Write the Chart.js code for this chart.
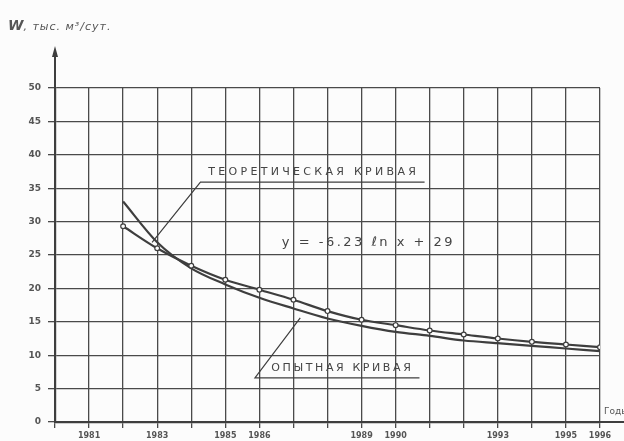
<!DOCTYPE html>
<html>
<head>
<meta charset="utf-8">
<script src="https://cdn.jsdelivr.net/npm/chart.js@4/dist/chart.umd.min.js"></script>
<style>
  html, body { margin: 0; padding: 0; background: #fcfcfc; }
  #wrap { width: 624px; height: 441px; position: relative; }
</style>
</head>
<body>
<div id="wrap"><canvas id="c" width="624" height="441"></canvas></div>
<script>
// ---- data ----
const yearIndex = [2, 3, 4, 5, 6, 7, 8, 9, 10, 11, 12, 13, 14, 15, 16];
const theoryValues = [29.3, 26.0, 23.4, 21.3, 19.8, 18.3, 16.6, 15.3, 14.5, 13.7, 13.1, 12.5, 12.0, 11.6, 11.2];
const experimentValues = [33.0, 26.9, 23.0, 20.6, 18.6, 17.0, 15.5, 14.4, 13.5, 12.9, 12.2, 11.8, 11.4, 11.0, 10.6];
const xTickPositions = [1, 3, 5, 6, 9, 10, 13, 15, 16];
const xTickLabels = ['1981', '1983', '1985', '1986', '1989', '1990', '1993', '1995', '1996'];
const yTickValues = [0, 5, 10, 15, 20, 25, 30, 35, 40, 45, 50];

const titleText = 'W';
const titleUnit = ', тыс. м³/сут.';
const xAxisTitle = 'Годы';
const theoryLabel = 'ТЕОРЕТИЧЕСКАЯ КРИВАЯ';
const experimentLabel = 'ОПЫТНАЯ КРИВАЯ';
const formulaLabel = 'y = -6.23 ℓn x + 29';

const ink = '#3e3e3e';

const annot = {
  id: 'annot',
  afterDraw(chart) {
    const ctx = chart.ctx;
    const xs = chart.scales.x, ys = chart.scales.y;
    const X = v => xs.getPixelForValue(v);
    const Y = v => ys.getPixelForValue(v);
    const area = chart.chartArea;
    ctx.save();
    ctx.strokeStyle = ink;
    ctx.fillStyle = ink;
    // y axis arrow
    ctx.lineWidth = 2;
    ctx.beginPath();
    ctx.moveTo(area.left, area.top);
    ctx.lineTo(area.left, area.top - 34);
    ctx.stroke();
    ctx.beginPath();
    ctx.moveTo(area.left, area.top - 42);
    ctx.lineTo(area.left - 3, area.top - 31);
    ctx.lineTo(area.left + 3, area.top - 31);
    ctx.closePath();
    ctx.fill();
    // x axis extension
    ctx.beginPath();
    ctx.moveTo(area.right, area.bottom);
    ctx.lineTo(624, area.bottom);
    ctx.stroke();

    // title
    ctx.fillStyle = '#555';
    ctx.textBaseline = 'middle';
    ctx.font = 'italic bold 14px "DejaVu Sans"';
    ctx.fillText(titleText, 8, 26);
    const wW = ctx.measureText(titleText).width;
    ctx.font = 'italic 11px "DejaVu Sans"';
    ctx.letterSpacing = '1px';
    ctx.fillText(titleUnit, 8 + wW, 27);

    // x axis title
    ctx.font = '9px "DejaVu Sans"';
    ctx.letterSpacing = '0px';
    ctx.fillText(xAxisTitle, area.right + 4, area.bottom - 10);

    // theory label
    ctx.fillStyle = '#444';
    ctx.font = '11px "DejaVu Sans"';
    ctx.letterSpacing = '3.3px';
    ctx.textAlign = 'left';
    ctx.fillText(theoryLabel, X(4.5), Y(37.4));
    ctx.lineWidth = 1.2;
    ctx.beginPath();
    ctx.moveTo(X(10.85), Y(35.9));
    ctx.lineTo(X(4.27), Y(35.9));
    ctx.lineTo(X(2.85), Y(26.9));
    ctx.stroke();

    // formula
    ctx.font = '13px "DejaVu Sans"';
    ctx.letterSpacing = '2.5px';
    ctx.fillText(formulaLabel, X(6.66), Y(26.8));

    // experiment label
    ctx.font = '11px "DejaVu Sans"';
    ctx.letterSpacing = '2.6px';
    ctx.fillText(experimentLabel, X(6.35), Y(8.0));
    ctx.beginPath();
    ctx.moveTo(X(10.7), Y(6.6));
    ctx.lineTo(X(5.87), Y(6.6));
    ctx.lineTo(X(7.2), Y(15.6));
    ctx.stroke();
    ctx.restore();
  }
};

const chart = new Chart(document.getElementById('c'), {
  type: 'line',
  data: {
    datasets: [
      {
        label: 'theory',
        data: yearIndex.map((x, i) => ({ x, y: theoryValues[i] })),
        borderColor: ink,
        borderWidth: 2.2,
        pointRadius: 2.4,
        pointBackgroundColor: '#fcfcfc',
        pointBorderColor: ink,
        pointBorderWidth: 1.2,
        cubicInterpolationMode: 'monotone',
        fill: false
      },
      {
        label: 'experiment',
        data: yearIndex.map((x, i) => ({ x, y: experimentValues[i] })),
        borderColor: ink,
        borderWidth: 2.2,
        pointRadius: 0,
        cubicInterpolationMode: 'monotone',
        fill: false
      }
    ]
  },
  options: {
    responsive: false,
    animation: false,
    devicePixelRatio: 1,
    layout: { padding: { top: 88, right: 24, left: 0, bottom: 0 } },
    plugins: { legend: { display: false }, tooltip: { enabled: false } },
    scales: {
      x: {
        type: 'linear',
        min: 0, max: 16,
        afterFit(s) { s.height = 19; },
        afterBuildTicks(s) {
          const t = [];
          for (let v = 0; v <= 16; v++) t.push({ value: v });
          s.ticks = t;
        },
        ticks: {
          autoSkip: false,
          maxRotation: 0,
          padding: 3,
          color: '#555',
          font: { family: 'DejaVu Sans', size: 8, weight: 'bold' },
          callback(v) {
            const k = xTickPositions.indexOf(v);
            return k >= 0 ? xTickLabels[k] : '';
          }
        },
        grid: { color: '#4a4a4a', lineWidth: 1.3, tickLength: 6, drawTicks: true },
        border: { color: ink, width: 2.2 }
      },
      y: {
        min: 0, max: 50,
        afterFit(s) { s.width = 55; },
        afterBuildTicks(s) { s.ticks = yTickValues.map(v => ({ value: v })); },
        ticks: {
          padding: 7,
          color: '#555',
          font: { family: 'DejaVu Sans', size: 9, weight: 'bold' }
        },
        grid: { color: '#4a4a4a', lineWidth: 1.3, tickLength: 7, drawTicks: true },
        border: { color: ink, width: 2.2 }
      }
    }
  },
  plugins: [annot]
});
</script>
</body>
</html>
